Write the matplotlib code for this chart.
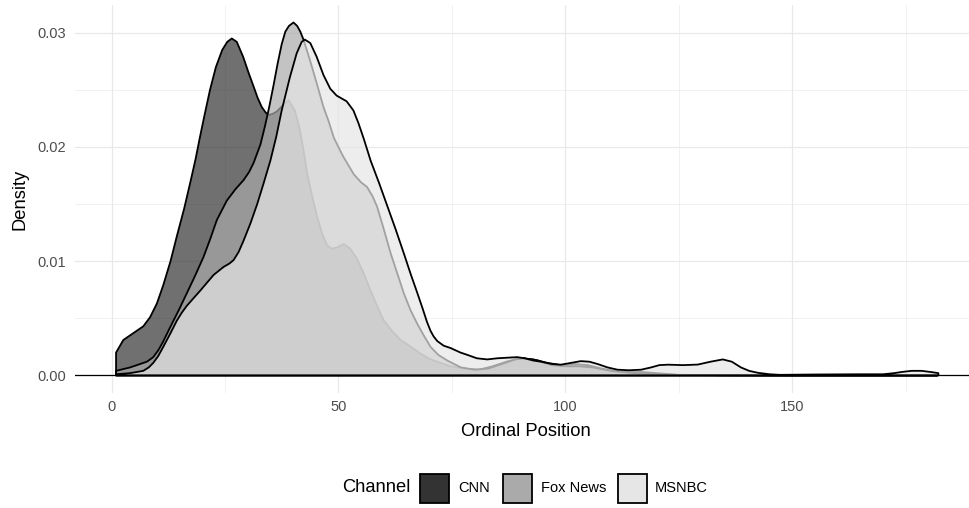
import matplotlib
matplotlib.use("Agg")
import matplotlib.pyplot as plt
from matplotlib.patches import Rectangle

plt.rcParams["font.family"] = ["Liberation Sans", "DejaVu Sans"]

# density curves (x = ordinal position, y = density)
channels = ["CNN", "Fox News", "MSNBC"]
fill_colors = ["#333333", "#AAAAAA", "#E6E6E6"]

cnn_x = [1, 2.6, 4.8, 7, 8.5, 10, 11.4, 13, 14.4, 16, 17.3, 18.5, 19.5, 20.5,
         21.7, 23, 24.4, 25.5, 26.5, 27.6, 29, 30.2, 31.3, 32.2, 33.1, 34,
         34.6, 35.5, 36.4, 37.9, 39, 40.4, 41.5, 42.4, 43.1, 44.2, 45.3, 46.4,
         47.5, 48.5, 49.7, 51.2, 52.6, 54.1, 55.5, 57, 58.5, 60, 61.8, 63.7,
         66, 68.1, 70.3, 72.5, 74.7, 77.7, 81, 84, 87, 90, 93, 96, 99, 102,
         105, 108, 112, 117, 120, 125, 135, 150, 165, 182]
cnn_y = [0.0020, 0.0031, 0.0037, 0.0043, 0.0051, 0.0063, 0.0079, 0.0100,
         0.0122, 0.0146, 0.0168, 0.0189, 0.0209, 0.0228, 0.0250, 0.0270,
         0.0285, 0.0292, 0.0295, 0.0292, 0.0279, 0.0265, 0.0253, 0.0243,
         0.0235, 0.0230, 0.0228, 0.0229, 0.0231, 0.0237, 0.0241, 0.0232,
         0.0215, 0.0195, 0.0177, 0.0157, 0.0139, 0.0124, 0.0114, 0.0111,
         0.0112, 0.0115, 0.0111, 0.0102, 0.0090, 0.0075, 0.0061, 0.0048,
         0.0039, 0.0031, 0.0025, 0.0019, 0.0014, 0.0011, 0.0008, 0.0006,
         0.0005, 0.0008, 0.0012, 0.0015, 0.0014, 0.0011, 0.0009, 0.0010,
         0.0009, 0.0006, 0.0003, 0.0003, 0.0002, 0.00005, 0.00002, 0.00001,
         0.00001, 0.00001]

fox_x = [1, 4.1, 7.8, 9.2, 10.3, 11.3, 12.9, 14.8, 16.6, 18.5, 20.3, 21.8,
         23.2, 25.4, 27.3, 29.1, 30.3, 31.3, 32.8, 33.8, 34.8, 35.7, 36.6,
         37.5, 38.3, 39.1, 40.1, 40.9, 41.6, 42.3, 43.1, 43.8, 45.2, 46.7,
         47.8, 49, 51, 53.4, 55, 56.3, 57.5, 58.5, 60, 61.5, 63, 64.4, 65.9,
         67.4, 68.8, 70.3, 72, 74, 77, 80, 83, 86, 89, 91, 94, 97, 100, 103,
         106, 110, 115, 120, 125, 135, 150, 165, 182]
fox_y = [0.0004, 0.0007, 0.0012, 0.0016, 0.0022, 0.0029, 0.0042, 0.0057,
         0.0072, 0.0088, 0.0104, 0.0120, 0.0136, 0.0153, 0.0163, 0.0171,
         0.0178, 0.0186, 0.0202, 0.0218, 0.0236, 0.0254, 0.0273, 0.0290,
         0.0301, 0.0306, 0.0309, 0.0306, 0.0301, 0.0294, 0.0284, 0.0275,
         0.0256, 0.0235, 0.0223, 0.0208, 0.0192, 0.0176, 0.0169, 0.0165,
         0.0157, 0.0148, 0.0128, 0.0107, 0.0089, 0.0072, 0.0057, 0.0045,
         0.0035, 0.0025, 0.0018, 0.0013, 0.0007, 0.0005, 0.0006, 0.0010,
         0.0014, 0.0015, 0.0013, 0.0009, 0.0008, 0.0008, 0.0007, 0.0004,
         0.0002, 0.0001, 0.00004, 0.00002, 0.00001, 0.00001, 0.00001]

msnbc_x = [1, 4.1, 7, 8.2, 9.2, 10.3, 11.4, 13, 14.4, 15.5, 16.6, 19.5, 22.5,
           24.7, 26, 26.9, 28, 29.1, 30.6, 32.1, 33.5, 35, 36.3, 37.5, 39.3,
           40.8, 41.9, 42.6, 43.8, 45.2, 46.7, 48.2, 49.6, 51.8, 53.3, 54.4,
           55.6, 57.1, 59, 60.8, 62.6, 64.4, 65.9, 67.4, 68.6, 69.5, 70.3, 71,
           71.8, 73.2, 74.7, 76.9, 78.4, 80.5, 82.8, 85, 87.2, 89.4, 91, 93,
           94.6, 97, 99, 101.3, 103.4, 105.3, 107.1, 109.3, 111.5, 114, 116.7,
           118.9, 120.7, 122.6, 126, 129.2, 132, 134.7, 136.7, 138.7, 140.5,
           142.4, 145, 147.3, 155, 165, 170, 172.5, 174.1, 176.3, 178.5, 180.5,
           182.2]
msnbc_y = [0.0001, 0.0002, 0.0004, 0.0007, 0.0011, 0.0017, 0.0025, 0.0037,
           0.0048, 0.0055, 0.0061, 0.0074, 0.0088, 0.0095, 0.0098, 0.0101,
           0.0108, 0.0118, 0.0133, 0.0150, 0.0168, 0.0188, 0.0209, 0.0232,
           0.0261, 0.0282, 0.0292, 0.0294, 0.0291, 0.0279, 0.0263, 0.0251,
           0.0245, 0.0240, 0.0232, 0.0221, 0.0207, 0.0188, 0.0168, 0.0148,
           0.0128, 0.0107, 0.0089, 0.0072, 0.0058, 0.0047, 0.0039, 0.0034,
           0.0030, 0.0026, 0.0024, 0.0020, 0.0018, 0.0015, 0.0014, 0.0015,
           0.00155, 0.0016, 0.0015, 0.0013, 0.0012, 0.0010, 0.00094, 0.0011,
           0.00125, 0.0012, 0.0010, 0.0007, 0.0005, 0.00045, 0.0005, 0.0007,
           0.0009, 0.00094, 0.0009, 0.00095, 0.0012, 0.0014, 0.0012, 0.0007,
           0.0004, 0.00023, 0.0001, 0.00005, 0.00008, 0.0001, 0.0001, 0.0002,
           0.0003, 0.0004, 0.0004, 0.0003, 0.0002]

curves = [(cnn_x, cnn_y), (fox_x, fox_y), (msnbc_x, msnbc_y)]

x_ticks = [0, 50, 100, 150]
y_ticks = [0.00, 0.01, 0.02, 0.03]

W, H = 969, 508
fig = plt.figure(figsize=(W / 100, H / 100), dpi=100)
# panel in pixels: left 75, right 978.5 (a bit past the edge), top 5, bottom 393
ax = fig.add_axes([75 / W, 1 - 393 / H, 903.5 / W, 388 / H])

for (xs, ys), col in zip(curves, fill_colors):
    px = [xs[0]] + list(xs) + [xs[-1]]
    py = [0] + list(ys) + [0]
    ax.fill(px, py, facecolor=matplotlib.colors.to_rgba(col, 0.7),
            edgecolor="black", linewidth=1.3, joinstyle="round", zorder=2)

ax.axhline(0, color="black", linewidth=0.9, zorder=3)

ax.set_xlim(-8.05, 191.05)
ax.set_ylim(-0.00154, 0.03243)
ax.set_xticks(x_ticks)
ax.set_xticks([25, 75, 125, 175], minor=True)
ax.set_yticks(y_ticks)
ax.set_yticks([0.005, 0.015, 0.025], minor=True)
ax.set_xticklabels([str(v) for v in x_ticks])
ax.set_yticklabels([f"{v:.2f}" for v in y_ticks])
ax.tick_params(which="both", length=0, labelsize=10.5, labelcolor="#4D4D4D")
ax.tick_params(axis="x", pad=5.2)
ax.tick_params(axis="y", pad=6.5)
ax.grid(which="major", color="#E8E8E8", linewidth=0.85)
ax.grid(which="minor", color="#EBEBEB", linewidth=0.5)
ax.set_axisbelow(True)
for s in ax.spines.values():
    s.set_visible(False)

fig.text(526 / W, 1 - 431 / H, "Ordinal Position", fontsize=13.2,
         ha="center", va="center")
fig.text(20 / W, 1 - 199 / H, "Density", fontsize=13.2, rotation=90,
         ha="center", va="center")

# legend below the panel
leg_y = 488
fig.text(342 / W, 1 - leg_y / H, "Channel", fontsize=13.2, ha="left", va="center")
key_left = [420, 502.5, 617.5]
text_left = [458, 541, 655]
for name, col, kx, tx in zip(channels, fill_colors, key_left, text_left):
    fig.add_artist(Rectangle((kx / W, 1 - (leg_y + 14.5) / H), 29 / W, 29 / H,
                             transform=fig.transFigure, facecolor=col,
                             edgecolor="black", linewidth=1.3))
    fig.text(tx / W, 1 - leg_y / H, name, fontsize=10.5, ha="left", va="center")

fig.savefig("out.png", dpi=100, facecolor="white")
